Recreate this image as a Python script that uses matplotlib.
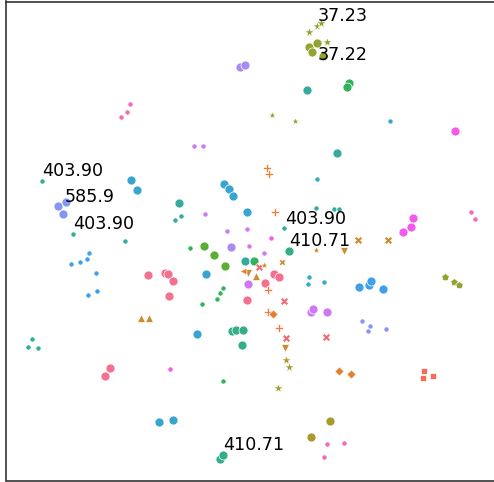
import matplotlib
matplotlib.use('Agg')
import matplotlib.pyplot as plt

# hue -> colour, style -> marker, size class -> marker area
hue_colors = {
    'pink': '#f4708f', 'redx': '#f26a74', 'salmon': '#f56c5a', 'orangered': '#f3763d',
    'orange': '#e5802f', 'gold': '#cd8b2f', 'olive': '#a99b2f', 'olivegreen': '#94a231',
    'green': '#5aae31', 'green2': '#33b25a', 'tealgreen': '#33ae89', 'teal': '#35ab9f',
    'cyan': '#38a9c2', 'bluecyan': '#38a5d1', 'blue': '#3f9fea', 'peri': '#8595f4',
    'purple': '#a98bf4', 'violet': '#cc79f2', 'magenta': '#f15aea', 'pinkmag': '#f567bd',
}
style_markers = {'circle': 'o', 'star': '*', 'plus': 'P', 'cross': 'X', 'tri': '^',
                 'tridown': 'v', 'diamond': 'D', 'square': 's', 'penta': 'p', 'left': '<'}
marker_scale = {'circle': 1.0, 'star': 1.5, 'plus': 1.0, 'cross': 0.95, 'tri': 0.9,
                'tridown': 0.9, 'diamond': 0.6, 'square': 0.65, 'penta': 0.9, 'left': 1.0}
size_areas = {'L': 42, 'M': 36, 'T': 24, 'S': 14}

# embedding coordinates
xs = [240, 245, 130, 127, 121, 194, 203, 309, 317, 321, 327, 309, 312, 317, 323, 349, 347, 307,
      272, 295, 390, 455, 337, 267, 269, 317, 42, 131, 137, 224, 229, 233, 58, 63, 66, 179, 175,
      181, 247, 205, 227, 247, 73, 125, 275, 316, 334, 339, 284, 271, 413, 411, 403, 471, 475,
      358, 388,
      89, 71, 80, 87, 96, 88, 97, 148, 165, 168, 173, 169, 206, 141, 149, 190, 223, 220, 217, 202,
      204, 214, 225, 231, 245, 254, 289, 32, 28, 38, 232, 236, 243, 242, 197, 110, 105, 170, 223,
      159, 173, 220, 223, 316, 344, 249, 264, 259, 264, 282, 248, 256, 274, 279, 265, 248, 268,
      247, 284, 268, 273, 279, 286, 285, 286, 289, 278, 309, 308, 324, 359, 369, 371, 383, 311,
      313, 327, 362, 370, 368, 386, 326, 339, 351, 424, 423, 433, 445, 454, 459, 330, 311, 327,
      344, 324, 243]
ys = [67, 65, 104, 112, 117, 146, 146, 32, 26, 23, 42, 47, 52, 43, 56, 83, 87, 90,
      115, 121, 121, 131, 153, 168, 174, 179, 181, 180, 190, 184, 189, 196, 206, 214, 202, 203, 220,
      216, 212, 214, 231, 229, 234, 241, 212, 208, 209, 209, 228, 238, 218, 227, 232, 212, 219,
      240, 240,
      253, 264, 262, 259, 273, 295, 291, 275, 273, 274, 281, 296, 274, 318, 318, 248, 288, 293, 299, 304,
      246, 255, 266, 247, 261, 261, 251, 339, 347, 348, 331, 330, 330, 345, 334, 368, 376, 369, 381,
      422, 420, 459, 455, 250, 251, 246, 253, 267, 265, 262, 273, 276, 274, 277, 283, 284, 290,
      300, 301, 312, 314, 328, 338, 348, 360, 367, 388, 277, 284, 282, 287, 285, 281, 289, 312,
      309, 312, 321, 326, 331, 329, 337, 371, 374, 371, 378, 376, 277, 282, 285, 421, 437, 444,
      443, 457, 271]
hues = ['purple', 'purple', 'pinkmag', 'pinkmag', 'pinkmag', 'violet', 'violet', 'olivegreen',
        'olivegreen', 'olivegreen', 'olivegreen', 'olivegreen', 'olivegreen', 'olivegreen',
        'olivegreen', 'green2', 'green2', 'teal', 'olivegreen', 'olivegreen', 'cyan', 'magenta',
        'teal', 'orange', 'orange', 'cyan', 'tealgreen', 'bluecyan', 'bluecyan', 'bluecyan',
        'bluecyan', 'bluecyan', 'peri', 'peri', 'peri', 'teal', 'teal', 'teal', 'bluecyan',
        'violet', 'violet', 'violet', 'tealgreen', 'teal', 'orangered', 'teal', 'teal', 'teal',
        'tealgreen', 'magenta', 'magenta', 'magenta', 'magenta', 'pinkmag', 'pinkmag', 'gold', 'gold',
        'blue', 'blue', 'blue', 'blue', 'blue', 'blue', 'blue', 'pink', 'pink', 'pink', 'pink', 'pink',
        'bluecyan', 'gold', 'gold', 'green2', 'green2', 'green2', 'green2', 'green2', 'green', 'green',
        'green', 'purple', 'teal', 'green2', 'tealgreen', 'teal', 'teal', 'teal', 'tealgreen',
        'tealgreen', 'tealgreen', 'tealgreen', 'bluecyan', 'pink', 'pink', 'magenta', 'green2',
        'bluecyan', 'bluecyan', 'tealgreen', 'tealgreen', 'gold', 'gold', 'violet', 'violet', 'redx',
        'gold', 'gold', 'gold', 'gold', 'pink', 'pink', 'pink', 'violet', 'orangered', 'pink', 'redx',
        'orangered', 'orange', 'orangered', 'redx', 'gold', 'olive', 'olive', 'olive', 'cyan', 'cyan',
        'cyan', 'blue', 'blue', 'blue', 'blue', 'violet', 'violet', 'violet', 'peri', 'peri', 'peri',
        'peri', 'redx', 'orange', 'orange', 'salmon', 'salmon', 'salmon', 'olivegreen', 'olivegreen',
        'olivegreen', 'olive', 'olive', 'pinkmag', 'pinkmag', 'pinkmag', 'orange']
styles = ['circle'] * 7 + ['star'] * 4 + ['circle'] * 7 + ['star'] * 2 + ['circle'] * 3 + \
         ['plus'] * 2 + ['circle'] * 19 + ['plus'] + ['circle'] * 10 + ['cross'] * 2 + \
         ['circle'] * 13 + ['tri'] * 2 + ['circle'] * 28 + ['star', 'tridown', 'circle', 'circle',
         'cross', 'star', 'cross', 'tridown', 'tri', 'circle', 'circle', 'circle', 'circle', 'plus',
         'circle', 'cross', 'plus', 'diamond', 'plus', 'cross', 'tridown', 'star', 'star', 'star'] + \
         ['circle'] * 14 + ['cross', 'diamond', 'diamond', 'square', 'square', 'square',
         'penta', 'penta', 'penta', 'circle', 'circle', 'circle', 'circle', 'circle', 'left']
sizes = ['L', 'L', 'S', 'S', 'S', 'S', 'S', 'M', 'M', 'M', 'M', 'L', 'L', 'L', 'L', 'L', 'L', 'L',
         'T', 'T', 'S', 'L', 'L', 'M', 'M', 'S', 'S', 'L', 'L', 'L', 'L', 'L', 'L', 'L', 'L', 'L', 'S',
         'S', 'L', 'S', 'S', 'S', 'S', 'S', 'M', 'S', 'S', 'S', 'S', 'S', 'L', 'L', 'L', 'S', 'S',
         'M', 'M',
         'S', 'S', 'S', 'S', 'S', 'S', 'S', 'L', 'L', 'L', 'L', 'L', 'L', 'M', 'M', 'S', 'S', 'S', 'S',
         'S', 'L', 'L', 'L', 'L', 'L', 'L', 'L', 'S', 'S', 'S', 'L', 'L', 'L', 'L', 'L', 'L', 'L', 'S',
         'S', 'L', 'L', 'L', 'L', 'T', 'M', 'S', 'S', 'M', 'T', 'T', 'M', 'M', 'L', 'L', 'L', 'L', 'M',
         'L', 'M', 'M', 'M', 'M', 'M', 'M', 'M', 'M', 'M', 'S', 'S', 'S', 'L', 'L', 'L', 'L', 'L',
         'L', 'L', 'S', 'S', 'S', 'S', 'M', 'M', 'M', 'M', 'M', 'M', 'M', 'M', 'M', 'L', 'L', 'S',
         'S', 'S', 'T']

# annotation labels and where they sit
labels = ['37.23', '37.22', '403.90', '585.9', '403.90', '403.90', '410.71', '410.71']
label_x = [318, 318, 42.5, 65, 73.5, 285, 289, 223]
label_y = [21, 59.5, 176, 202.5, 229.5, 223.5, 246, 450.5]

fig = plt.figure(figsize=(4.94, 4.82), dpi=100)
ax = fig.add_axes([5.5 / 494, 1.5 / 482, (496 - 5.5) / 494, 479 / 482])

for i in range(len(xs)):
    st = styles[i]
    ax.scatter(xs[i], ys[i], s=size_areas[sizes[i]] * marker_scale[st], c=hue_colors[hues[i]],
               marker=style_markers[st], edgecolors='white', linewidths=0.5, zorder=2)

for t, tx, ty in zip(labels, label_x, label_y):
    ax.text(tx, ty, t, fontsize=12.6, color='black', va='baseline', ha='left', zorder=3)

ax.set_xlim(5.5, 496)
ax.set_ylim(480.5, 1.5)
ax.set_xticks([])
ax.set_yticks([])
for sp in ax.spines.values():
    sp.set_color('#333333')
    sp.set_linewidth(1.2)

fig.savefig('out.png', dpi=100)
